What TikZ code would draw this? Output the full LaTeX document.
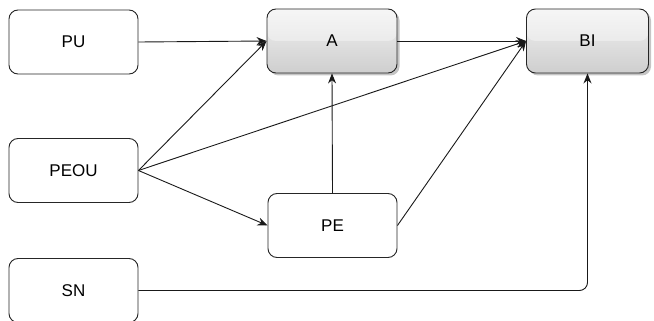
\documentclass[tikz,border=0pt]{standalone}
\usepackage{fontspec}
\setmainfont{Liberation Sans}
\usetikzlibrary{arrows.meta,shadows}
\begin{document}
\begin{tikzpicture}[x=1pt,y=-1pt,
  box/.style={draw=black!85, line width=0.9pt, rounded corners=9pt,
    minimum width=129pt, minimum height=64pt, inner sep=0pt,
    font=\fontsize{17}{20}\selectfont, fill=white},
  glass/.style={box, top color=black!5, bottom color=black!19,
    drop shadow={shadow xshift=2.5pt, shadow yshift=-2.5pt, fill=black!45, opacity=0.5},
    path picture={\fill[white,opacity=0.35]
      (path picture bounding box.north west) rectangle (path picture bounding box.east);}},
  conn/.style={draw=black!90, line width=0.9pt, -{Stealth[length=10pt,width=8pt]}}
]
\useasboundingbox (0,0) rectangle (654,321);

% source factors
\node[box] (pu)   at (73.5,42)    {PU};
\node[box] (peou) at (73.5,170.5) {PEOU};
\node[box] (sn)   at (73.5,290.5) {SN};

% mediators and outcome
\node[glass, minimum width=130pt] (a)  at (332,41) {A};
\node[box] (pe) at (332.5,225.5) {PE};
\node[glass, minimum width=122pt] (bi) at (587.5,41) {BI};

% relations
\draw[conn] (pu.east) -- (a.west);
\draw[conn] (peou.east) -- (a.west);
\draw[conn] (peou.east) -- (bi.west);
\draw[conn] (peou.east) -- (pe.west);
\draw[conn] (pe.north) -- (a.south);
\draw[conn] (a.east) -- (bi.west);
\draw[conn] (pe.east) -- (bi.west);
\draw[conn, rounded corners=8pt] (sn.east) -| (bi.south);
\end{tikzpicture}
\end{document}
